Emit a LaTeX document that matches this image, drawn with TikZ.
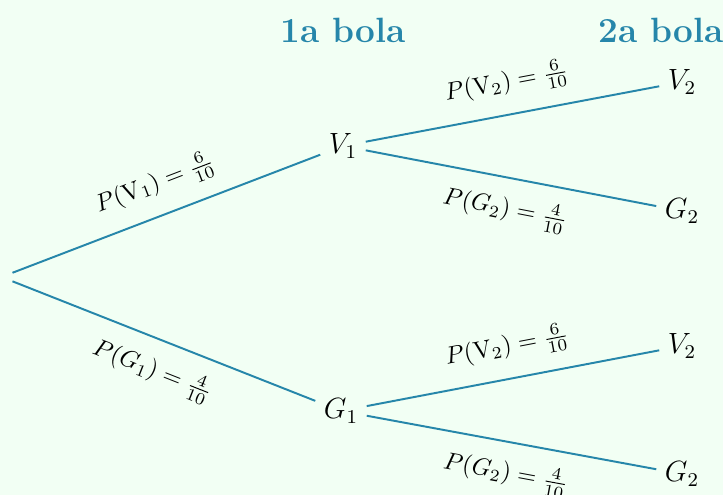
\documentclass[tikz,border=0pt]{standalone}
\definecolor{bg}{RGB}{242,255,244}
\definecolor{tealc}{RGB}{38,134,170}
\begin{document}
\begin{tikzpicture}[x=0.41pt,y=-0.41pt,
  state/.style={font=\large},
  head/.style={font=\Large\bfseries, text=tealc},
  branch/.style={draw=tealc, line width=0.8pt},
  prob/.style={sloped, anchor=center, font=\normalsize}]
\fill[bg] (0,0) rectangle (723,495);
\useasboundingbox (0,0) rectangle (723,495);
\node[head] (h1) at (343,30) {1a bola};
\node[head] (h2) at (661,30) {2a bola};
\node[inner sep=4.3pt] (r) at (1.5,277) {};
\node[state] (v1) at (343,146) {$V_1$};
\node[state] (g1) at (341,411) {$G_1$};
\node[state] (v2a) at (682,82) {$V_2$};
\node[state] (g2a) at (682,211) {$G_2$};
\node[state] (v2b) at (682,346) {$V_2$};
\node[state] (g2b) at (682,474) {$G_2$};
\draw[branch] (r) -- node[prob, yshift=13pt] (l1) {$P(\mathrm{V}_1) = \frac{6}{10}$} (v1);
\draw[branch] (r) -- node[prob, yshift=-13pt] (l2) {$P(G_1) = \frac{4}{10}$} (g1);
\draw[branch] (v1) -- node[prob, yshift=13pt] (l3) {$P(\mathrm{V}_2) = \frac{6}{10}$} (v2a);
\draw[branch] (v1) -- node[prob, yshift=-13pt] (l4) {$P(G_2) = \frac{4}{10}$} (g2a);
\draw[branch] (g1) -- node[prob, yshift=13pt] (l5) {$P(\mathrm{V}_2) = \frac{6}{10}$} (v2b);
\draw[branch] (g1) -- node[prob, yshift=-13pt] (l6) {$P(G_2) = \frac{4}{10}$} (g2b);
\end{tikzpicture}
\end{document}
